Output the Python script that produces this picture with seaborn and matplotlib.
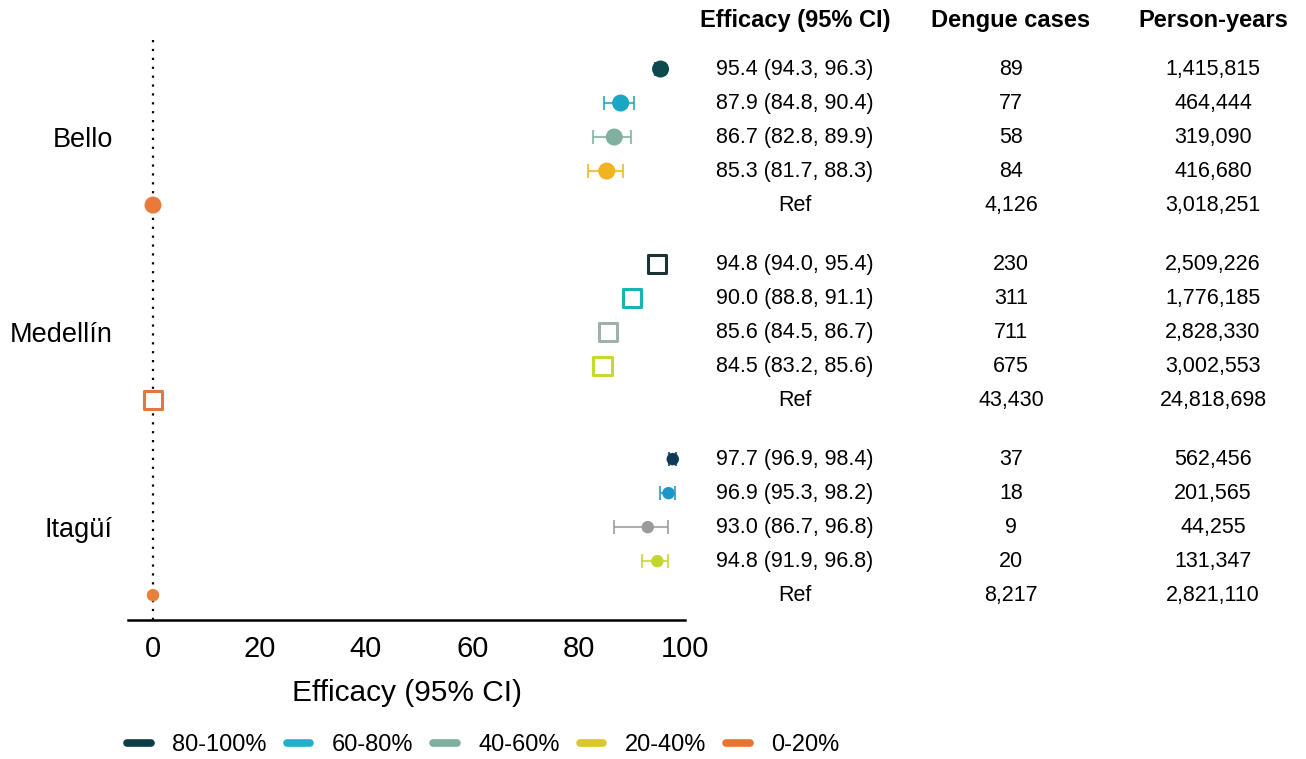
import matplotlib
matplotlib.use("Agg")
import matplotlib.pyplot as plt
import matplotlib.transforms as mtransforms
from matplotlib.lines import Line2D
import seaborn as sns
import pandas as pd
import numpy as np

# ---- data ----
cities = ["Bello", "Medellín", "Itagüí"]
groups = ["80-100%", "60-80%", "40-60%", "20-40%", "0-20%"]

bello_eff = [95.4, 87.9, 86.7, 85.3, 0.0]
bello_lo = [94.3, 84.8, 82.8, 81.7, 0.0]
bello_hi = [96.3, 90.4, 89.9, 88.3, 0.0]
bello_cases = ["89", "77", "58", "84", "4,126"]
bello_py = ["1,415,815", "464,444", "319,090", "416,680", "3,018,251"]

med_eff = [94.8, 90.0, 85.6, 84.5, 0.0]
med_lo = [94.0, 88.8, 84.5, 83.2, 0.0]
med_hi = [95.4, 91.1, 86.7, 85.6, 0.0]
med_cases = ["230", "311", "711", "675", "43,430"]
med_py = ["2,509,226", "1,776,185", "2,828,330", "3,002,553", "24,818,698"]

ita_eff = [97.7, 96.9, 93.0, 94.8, 0.0]
ita_lo = [96.9, 95.3, 86.7, 91.9, 0.0]
ita_hi = [98.4, 98.2, 96.8, 96.8, 0.0]
ita_cases = ["37", "18", "9", "20", "8,217"]
ita_py = ["562,456", "201,565", "44,255", "131,347", "2,821,110"]

eff_labels = {
    "Bello": ["95.4 (94.3, 96.3)", "87.9 (84.8, 90.4)", "86.7 (82.8, 89.9)", "85.3 (81.7, 88.3)", "Ref"],
    "Medellín": ["94.8 (94.0, 95.4)", "90.0 (88.8, 91.1)", "85.6 (84.5, 86.7)", "84.5 (83.2, 85.6)", "Ref"],
    "Itagüí": ["97.7 (96.9, 98.4)", "96.9 (95.3, 98.2)", "93.0 (86.7, 96.8)", "94.8 (91.9, 96.8)", "Ref"],
}

# ---- styles ----
city_colors = {
    "Bello": ["#0d4a4f", "#1aa6c4", "#7fb0a0", "#f0b51e", "#ea7a3c"],
    "Medellín": ["#1e3234", "#1ab3b3", "#9fb0ad", "#c6d832", "#e07840"],
    "Itagüí": ["#0f3a5a", "#1d95c9", "#9a9a9a", "#c5d52e", "#e8803a"],
}
legend_colors = ["#0d3c46", "#1fb0cc", "#7fae9f", "#d8c828", "#e8742f"]
city_offset = {"Bello": 0.0, "Medellín": 5.74, "Itagüí": 11.47}

rows = []
for city, eff, lo, hi, cases, py in [
    ("Bello", bello_eff, bello_lo, bello_hi, bello_cases, bello_py),
    ("Medellín", med_eff, med_lo, med_hi, med_cases, med_py),
    ("Itagüí", ita_eff, ita_lo, ita_hi, ita_cases, ita_py),
]:
    for i, g in enumerate(groups):
        rows.append(dict(city=city, group=g, eff=eff[i], lo=lo[i], hi=hi[i],
                         cases=cases[i], py=py[i], label=eff_labels[city][i],
                         ypos=city_offset[city] + i,
                         color=city_colors[city][i]))
df = pd.DataFrame(rows)

sns.set_theme(style="white")
plt.rcParams["font.family"] = ["Liberation Sans", "DejaVu Sans"]
for k in ["text.color", "axes.labelcolor", "xtick.color", "ytick.color"]:
    plt.rcParams[k] = "black"

fig = plt.figure(figsize=(13.06, 7.59), dpi=100)
ax = fig.add_axes([128 / 1306, 1 - 620 / 759, 557 / 1306, (620 - 35) / 759])

ax.axvline(0, color="black", linestyle=(0, (1, 3)), lw=1.6, zorder=1)

marker_cfg = {
    "Bello": dict(marker="o", s=150, filled=True),
    "Medellín": dict(marker="s", s=170, filled=False),
    "Itagüí": dict(marker="o", s=80, filled=True),
}

for city in cities:
    sub = df[df.city == city]
    cfg = marker_cfg[city]
    for _, r in sub.iterrows():
        if r.group != "0-20%":
            ax.errorbar(r.eff, r.ypos, xerr=[[r.eff - r.lo], [r.hi - r.eff]],
                        fmt="none", ecolor=r.color, elinewidth=1.5,
                        capsize=5, capthick=1.5, alpha=0.8, zorder=2)
    pal = dict(zip(sub.group, sub.color))
    if cfg["filled"]:
        sns.scatterplot(data=sub, x="eff", y="ypos", hue="group", palette=pal,
                        marker=cfg["marker"], s=cfg["s"], edgecolor="none",
                        legend=False, ax=ax, zorder=3)
    else:
        sns.scatterplot(data=sub, x="eff", y="ypos", hue="group", palette=pal,
                        marker=cfg["marker"], s=cfg["s"], legend=False, ax=ax,
                        zorder=3, facecolor="white", linewidth=2.2)
        coll = ax.collections[-1]
        coll.set_facecolor("white")
        coll.set_edgecolors(list(sub.color))

ax.set_xlim(-4.7, 100)
ax.set_ylim(16.2, -1.0)
ax.set_xticks([0, 20, 40, 60, 80, 100])
ax.set_xticklabels(["0", "20", "40", "60", "80", "100"], fontsize=21)
ax.tick_params(axis="x", direction="out", length=7, width=1.5, color="black", pad=4)
ax.set_yticks([city_offset[c] + 2 for c in cities])
ax.set_yticklabels(cities, fontsize=19.5)
ax.tick_params(axis="y", length=0, pad=11)
for s in ["top", "right", "left"]:
    ax.spines[s].set_visible(False)
ax.spines["bottom"].set_color("black")
ax.spines["bottom"].set_linewidth(1.8)
ax.set_xlabel("Efficacy (95% CI)", fontsize=21.5, labelpad=11)
ax.set_ylabel("")

# ---- table text ----
trans = mtransforms.blended_transform_factory(fig.transFigure, ax.transData)
col_x = {"label": 795 / 1306, "cases": 1011 / 1306, "py": 1213 / 1306}
headers = {"label": "Efficacy (95% CI)", "cases": "Dengue cases", "py": "Person-years"}
for key, h in headers.items():
    ax.text(col_x[key], -1.44, h, transform=trans, ha="center", va="center",
            fontsize=17, fontweight="bold", clip_on=False)
for _, r in df.iterrows():
    for key in ["label", "cases", "py"]:
        ax.text(col_x[key], r.ypos, r[key], transform=trans, ha="center",
                va="center", fontsize=15.5, clip_on=False)

# ---- legend ----
handles = [Line2D([0], [0], color=c, lw=5.5, solid_capstyle="round") for c in legend_colors]
fig.legend(handles, groups, loc="center left", bbox_to_anchor=(118 / 1306, 1 - 745 / 759),
           ncol=5, frameon=False, fontsize=17, handlelength=1.0, handletextpad=0.9,
           columnspacing=0.85, borderaxespad=0)

fig.savefig("out.png", dpi=100)
